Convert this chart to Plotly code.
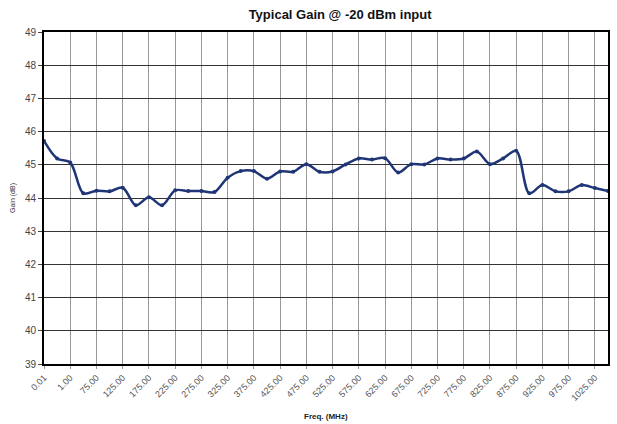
import plotly.graph_objects as go

freq_labels = ["0.01", "0.10", "1.00", "50.00"] + [f"{25*k - 25:.2f}" for k in range(4, 44)]
gain_db = [45.72, 45.19, 45.07, 44.14, 44.22, 44.20, 44.31, 43.78, 44.02, 43.78,
           44.23, 44.21, 44.21, 44.18, 44.61, 44.81, 44.81, 44.58, 44.80, 44.79,
           45.02, 44.79, 44.80, 45.01, 45.19, 45.16, 45.20, 44.77, 45.02, 45.01,
           45.19, 45.16, 45.19, 45.40, 45.02, 45.19, 45.42, 44.14, 44.39, 44.20,
           44.20, 44.39, 44.30, 44.21]
y_ticks = list(range(39, 50))

fig = go.Figure()
fig.add_trace(go.Scatter(
    x=freq_labels, y=gain_db, mode="lines+markers",
    line=dict(color="#1F3575", width=2.5, shape="spline", smoothing=0.9),
    marker=dict(color="#1F3575", size=4),
    showlegend=False,
))

font = "Liberation Sans, Arial, sans-serif"
fig.update_layout(
    width=617, height=424,
    margin=dict(l=44, r=9, t=32, b=60),
    paper_bgcolor="white", plot_bgcolor="white",
    title=dict(text="<b>Typical Gain @ -20 dBm input</b>", x=0.525, xref="paper", xanchor="center",
               y=1 - 14 / 424, yanchor="middle", yref="container",
               font=dict(family=font, size=13, color="#111")),
    xaxis=dict(
        type="category", range=[0, len(freq_labels) - 1], automargin=False,
        tickmode="array", tickvals=freq_labels[::2], ticktext=freq_labels[::2],
        tickangle=-45, tickfont=dict(family=font, size=9, color="#555"),
        showgrid=True, gridcolor="#999", gridwidth=1,
        showline=True, linecolor="black", linewidth=2, mirror=True,
        ticks="outside", ticklen=3, tickcolor="#999",
    ),
    yaxis=dict(
        range=[39, 49], tickmode="array", tickvals=y_ticks, automargin=False,
        tickfont=dict(family=font, size=10, color="#444"),
        showgrid=True, gridcolor="#333", gridwidth=1,
        showline=True, linecolor="black", linewidth=2, mirror=True,
        ticks="outside", ticklen=4, tickcolor="#444",
        zeroline=False,
        title=dict(text="Gain (dB)", font=dict(family=font, size=7, color="#333"), standoff=8),
    ),
    annotations=[dict(text="<b>Freq. (MHz)</b>", xref="paper", yref="paper",
                      x=0.5, y=-(416 - 364) / 332, xanchor="center", yanchor="middle",
                      showarrow=False, font=dict(family=font, size=8, color="#222"))],
)
fig.write_html("out.html")
